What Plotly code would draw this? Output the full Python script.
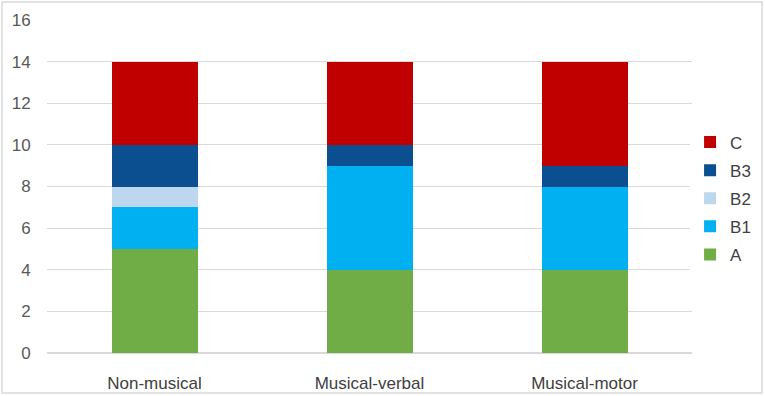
import plotly.graph_objects as go

categories = ["Non-musical", "Musical-verbal", "Musical-motor"]
A = [5, 4, 4]
B1 = [2, 5, 4]
B2 = [1, 0, 0]
B3 = [2, 1, 1]
C = [4, 4, 5]
series = [("A", A, "#70AD47"), ("B1", B1, "#00B0F0"), ("B2", B2, "#BDD7EE"),
          ("B3", B3, "#0B4F91"), ("C", C, "#C00000")]
y_ticks = [0, 2, 4, 6, 8, 10, 12, 14, 16]

fig = go.Figure()
for i, (name, vals, col) in enumerate(series):
    fig.add_trace(go.Bar(x=categories, y=vals, name=name, marker=dict(color=col, line=dict(width=0)),
                         legendgroup=name, legendrank=len(series) - i))

W, H = 765, 396
l, r, t, b = 47, 73, 20, 43
pw, ph = W - l - r, H - t - b
fig.update_layout(
    barmode="stack", bargap=0.6,
    width=W, height=H,
    margin=dict(l=l, r=r, t=t, b=b, autoexpand=False),
    paper_bgcolor="white", plot_bgcolor="white",
    font=dict(family="Liberation Sans, Arial", size=17, color="#595959"),
    xaxis=dict(showgrid=False, showline=False, ticks="outside", ticklen=15, tickcolor="rgba(0,0,0,0)",
               tickfont=dict(size=17, color="#404040"), automargin=False),
    yaxis=dict(range=[0, 16], tickvals=y_ticks, showgrid=True, gridcolor="#D9D9D9", gridwidth=1,
               zeroline=True, zerolinecolor="#D9D9D9", ticks="outside", ticklen=12,
               tickcolor="rgba(0,0,0,0)", automargin=False,
               tickfont=dict(size=17, color="#595959")),
    legend=dict(traceorder="grouped", x=0.997, xanchor="left", y=0.464, yanchor="middle",
                font=dict(size=17, color="#404040"), tracegroupgap=3, itemwidth=30),
    showlegend=True,
    shapes=[dict(type="rect", xref="paper", yref="paper",
                 x0=(2 - l) / pw, x1=(762 - l) / pw,
                 y0=(H - b - 393) / ph, y1=(H - b - 2) / ph,
                 line=dict(color="#D9D9D9", width=1.5), fillcolor="rgba(0,0,0,0)")],
)
fig.write_html("out.html", config={"displayModeBar": False},
               post_script="document.body.style.margin='0';document.body.style.overflow='hidden';")
